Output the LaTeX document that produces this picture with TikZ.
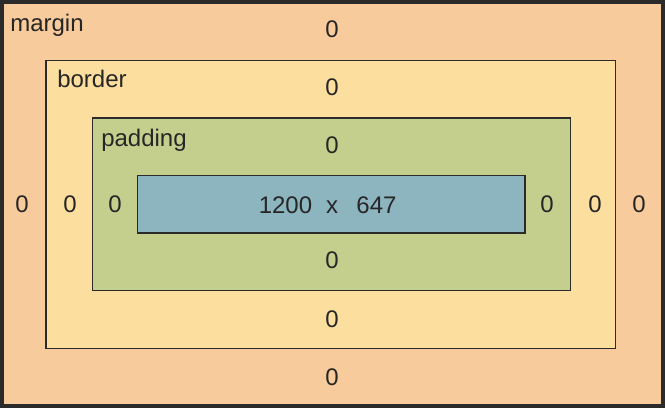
\documentclass[tikz,border=0pt]{standalone}
\usepackage{fontspec}
\setmainfont{Liberation Sans}
\usetikzlibrary{positioning,calc}
\definecolor{frame}{HTML}{2B2B2B}
\definecolor{marginc}{HTML}{F8CB9C}
\definecolor{borderc}{HTML}{FCDE9F}
\definecolor{paddingc}{HTML}{C5CF8D}
\definecolor{contentc}{HTML}{8DB5C0}

\begin{document}
\begin{tikzpicture}[x=0.75pt,y=-0.75pt,
    layer/.style={draw=frame,line width=1.3pt},
    lbl/.style={font=\fontsize{18}{21}\selectfont,text=black!85,inner sep=0pt},
    zero/.style={lbl}]
  \useasboundingbox (0,0) rectangle (665,408);
  \fill[frame] (0,0) rectangle (665,408);
  % nested boxes, outside in
  \draw[layer,fill=marginc]  (3,3)     rectangle (661.5,404.5);
  \draw[layer,fill=borderc]  (46,60.5) rectangle (615.5,348.5);
  \draw[layer,fill=paddingc] (92.5,118) rectangle (570.5,290.5);
  \draw[layer,fill=contentc] (137.5,175.5) rectangle (525,233);
  % box names
  \node[lbl,anchor=base west] (marginlbl)  at (10,31)    {margin};
  \node[lbl,anchor=base west] (borderlbl)  at (57,87)    {border};
  \node[lbl,anchor=base west] (paddinglbl) at (101,146.5) {padding};
  % sizes above and below
  \foreach \n/\y in {mtop/29,btop/87,ptop/145,pbot/260,bbot/319,mbot/377}{%
    \node[zero] (\n) at (332,\y) {0};
  }
  % sizes left and right
  \foreach \n/\x in {mleft/22,bleft/70,pleft/115,pright/547,bright/595,mright/639}{%
    \node[zero] (\n) at (\x,204) {0};
  }
  \node[lbl,anchor=base] (cw) at (285.5,213) {1200};
  \node[lbl,anchor=base] (cx) at (332,213)   {x};
  \node[lbl,anchor=base] (ch) at (376.5,213) {647};
\end{tikzpicture}
\end{document}
